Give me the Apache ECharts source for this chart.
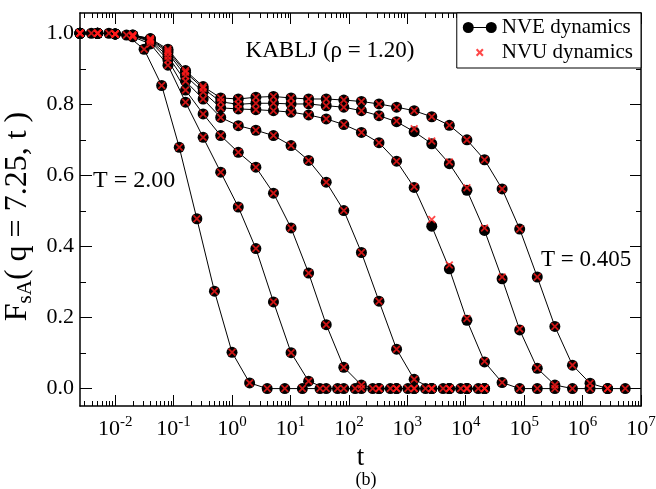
<!DOCTYPE html>
<html><head><meta charset="utf-8">
<script src="https://cdn.jsdelivr.net/npm/echarts@6/dist/echarts.min.js"></script>
<style>html,body{margin:0;padding:0;background:#fff}#c{width:656px;height:489px}</style>
</head><body><div id="c"></div>
<script>
// time grids
const tGridA = [0.00390625, 0.0078125, 0.015625, 0.03125, 0.0625, 0.125, 0.25, 0.5, 1, 2, 4, 8, 16, 32, 64, 128, 256, 512, 1024, 2048, 4096, 8192, 16384];
const tGridB = [0.0025, 0.005, 0.01, 0.02, 0.04, 0.08, 0.16, 0.32, 0.64, 1.28, 2.56, 5.12, 10.24, 20.48, 40.96, 81.92, 163.84, 327.68, 655.36, 1310.72, 2621.44, 5242.88, 10485.76, 20971.52, 41943.04, 83886.08, 167772.16, 335544.32, 671088.64, 1342177.28, 2684354.56, 5368709.12];

// NVE dynamics, one array per temperature (T = 2.00 ... T = 0.405)
const nveT200 = [1.0, 1.0, 0.995, 0.955, 0.853, 0.679, 0.478, 0.274, 0.102, 0.016, 0.0, 0.0, 0.0, 0.0, 0.0, 0.0, 0.0, 0.0, 0.0, 0.0, 0.0, 0.0, 0.0];
const nveT2 = [1.0, 1.0, 0.998, 0.99, 0.97, 0.91, 0.806, 0.707, 0.609, 0.511, 0.394, 0.244, 0.101, 0.021, 0.0, 0.0, 0.0, 0.0, 0.0, 0.0, 0.0, 0.0, 0.0, 0.0];
const nveT3 = [1.0, 1.0, 0.998, 0.992, 0.977, 0.925, 0.84, 0.773, 0.712, 0.665, 0.623, 0.55, 0.452, 0.325, 0.18, 0.06, 0.01, 0.0, 0.0, 0.0, 0.0, 0.0, 0.0, 0.0];
const nveT4 = [1.0, 1.0, 0.998, 0.993, 0.98, 0.935, 0.865, 0.815, 0.763, 0.74, 0.727, 0.712, 0.684, 0.642, 0.581, 0.501, 0.383, 0.246, 0.111, 0.026, 0.0, 0.0, 0.0, 0.0];
const nveT5 = [1.0, 1.0, 0.998, 0.994, 0.982, 0.945, 0.88, 0.835, 0.79, 0.787, 0.785, 0.782, 0.778, 0.77, 0.759, 0.743, 0.721, 0.692, 0.64, 0.566, 0.457, 0.337, 0.192, 0.075, 0.017, 0.0, 0.0, 0.0];
const nveT6 = [1.0, 1.0, 0.998, 0.995, 0.984, 0.95, 0.89, 0.845, 0.807, 0.8, 0.803, 0.803, 0.801, 0.801, 0.796, 0.792, 0.782, 0.768, 0.751, 0.723, 0.689, 0.633, 0.558, 0.445, 0.309, 0.165, 0.057, 0.01, 0.0, 0.0, 0.0];
const nveT0405 = [1.0, 1.0, 0.998, 0.995, 0.985, 0.955, 0.895, 0.85, 0.818, 0.815, 0.82, 0.822, 0.818, 0.815, 0.815, 0.812, 0.808, 0.801, 0.792, 0.782, 0.765, 0.741, 0.7, 0.644, 0.562, 0.449, 0.314, 0.175, 0.066, 0.015, 0.0, 0.0];

// NVU dynamics (where it differs visibly from NVE)
const nvuT5 = [1.0, 1.0, 0.998, 0.994, 0.982, 0.945, 0.88, 0.835, 0.79, 0.787, 0.785, 0.782, 0.778, 0.77, 0.759, 0.743, 0.721, 0.692, 0.64, 0.568, 0.476, 0.348, 0.197, 0.077, 0.017, 0.0, 0.0, 0.0];
const nvuT6 = [1.0, 1.0, 0.998, 0.995, 0.984, 0.95, 0.89, 0.845, 0.807, 0.8, 0.803, 0.803, 0.801, 0.801, 0.796, 0.792, 0.782, 0.768, 0.753, 0.731, 0.697, 0.638, 0.565, 0.452, 0.314, 0.168, 0.058, 0.01, 0.0, 0.0, 0.0];

const curves = [
  {t: tGridA, nve: nveT200, nvu: nveT200},
  {t: tGridB, nve: nveT2, nvu: nveT2},
  {t: tGridB, nve: nveT3, nvu: nveT3},
  {t: tGridB, nve: nveT4, nvu: nveT4},
  {t: tGridB, nve: nveT5, nvu: nvuT5},
  {t: tGridB, nve: nveT6, nvu: nvuT6},
  {t: tGridB, nve: nveT0405, nvu: nveT0405}
];

const xMajorTicks = [0.01, 0.1, 1, 10, 100, 1000, 10000, 100000, 1000000, 10000000];
const yMajorTicks = [0.0, 0.2, 0.4, 0.6, 0.8, 1.0];
const yMinorTicks = [0.1, 0.3, 0.5, 0.7, 0.9];
const xMinorTicks = [];
for (let e = -3; e < 7; e++) for (let m = 2; m <= 9; m++) { const v = m * Math.pow(10, e); if (v >= 0.0025) xMinorTicks.push(v); }

const FONT = 'Liberation Serif';
const XMIN = 0.0025, XMAX = 1e7, YMIN = -0.049, YMAX = 1.057;
const crossPath = 'path://M0,0 L0.01,0 L0,0.01 Z M11,11 L10.99,11 L11,10.99 Z M1.6,3.1 L3.1,1.6 L5.5,4 L7.9,1.6 L9.4,3.1 L7,5.5 L9.4,7.9 L7.9,9.4 L5.5,7 L3.1,9.4 L1.6,7.9 L4,5.5 Z';
const crossSym = 'path://M0,1.6 L1.6,0 L5,3.4 L8.4,0 L10,1.6 L6.6,5 L10,8.4 L8.4,10 L5,6.6 L1.6,10 L0,8.4 L3.4,5 Z';
const nveIcon = 'path://M0,5.5 A5.5,5.5 0 1,1 11,5.5 A5.5,5.5 0 1,1 0,5.5 Z M23,5.5 A5.5,5.5 0 1,1 34,5.5 A5.5,5.5 0 1,1 23,5.5 Z M10,4.9 L24,4.9 L24,6.1 L10,6.1 Z';

function xAxisDef(pos, ticks, len, labels, line) {
  return {
    type: 'log', logBase: 10, min: XMIN, max: XMAX, position: pos, gridIndex: 0,
    axisLine: {show: line, onZero: false, lineStyle: {color: '#000', width: 1.5}},
    axisTick: {show: true, inside: true, length: len, customValues: ticks, lineStyle: {color: '#000', width: 1}},
    axisLabel: labels ? {
      show: true, customValues: xMajorTicks, margin: 9, showMinLabel: true, showMaxLabel: true,
      formatter: v => '{b|10}{s|' + Math.round(Math.log10(v)) + '}',
      rich: {
        b: {fontFamily: FONT, fontSize: 22, color: '#000', lineHeight: 28, verticalAlign: 'middle'},
        s: {fontFamily: FONT, fontSize: 15, color: '#000', lineHeight: 9, verticalAlign: 'top'}
      }
    } : {show: false},
    splitLine: {show: false}, minorTick: {show: false}
  };
}
function yAxisDef(pos, ticks, len, labels, line) {
  return {
    type: 'value', min: YMIN, max: YMAX, position: pos, gridIndex: 0,
    axisLine: {show: line, onZero: false, lineStyle: {color: '#000', width: 1.5}},
    axisTick: {show: true, inside: true, length: len, customValues: ticks, lineStyle: {color: '#000', width: 1}},
    axisLabel: labels ? {
      show: true, customValues: yMajorTicks, margin: 6,
      formatter: v => v.toFixed(1),
      fontFamily: FONT, fontSize: 22, color: '#000'
    } : {show: false},
    splitLine: {show: false}
  };
}

const xAxes = [
  xAxisDef('bottom', xMajorTicks, 11, true, true),
  xAxisDef('bottom', xMinorTicks, 5, false, false),
  xAxisDef('top', xMajorTicks, 11, false, true),
  xAxisDef('top', xMinorTicks, 5, false, false)
];
xAxes[0].name = 't';
xAxes[0].nameLocation = 'middle';
xAxes[0].nameGap = 25;
xAxes[0].nameTextStyle = {fontFamily: FONT, fontSize: 27, color: '#000'};

const yAxes = [
  yAxisDef('left', yMajorTicks, 12, true, true),
  yAxisDef('left', yMinorTicks, 6, false, false),
  yAxisDef('right', yMajorTicks, 11, false, true),
  yAxisDef('right', yMinorTicks, 5, false, false)
];
yAxes[0].name = '{m|F}{s|sA}{m|( q = 7.25, t )}';
yAxes[0].nameLocation = 'middle';
yAxes[0].nameGap = 36;
yAxes[0].nameRotate = 90;
yAxes[0].nameTextStyle = {
  padding: [0, 14, 0, 0],
  rich: {
    m: {fontFamily: FONT, fontSize: 32, color: '#000', lineHeight: 36, verticalAlign: 'middle'},
    s: {fontFamily: FONT, fontSize: 21, color: '#000', lineHeight: 16, verticalAlign: 'bottom'}
  }
};

const series = [];
curves.forEach(c => {
  series.push({
    type: 'line', name: 'NVE dynamics', xAxisIndex: 0, yAxisIndex: 0,
    data: c.nve.map((v, i) => [c.t[i], v]),
    symbol: 'circle', symbolSize: 11, showSymbol: true, showAllSymbol: true,
    itemStyle: {color: '#000'}, lineStyle: {color: '#000', width: 1},
    emphasis: {disabled: true}, z: 2, animation: false
  });
});
curves.forEach(c => {
  series.push({
    type: 'scatter', name: 'NVU dynamics', xAxisIndex: 0, yAxisIndex: 0,
    data: c.nvu.map((v, i) => [c.t[i], v]),
    symbol: crossSym, symbolSize: 8,
    itemStyle: {color: '#ff1a1a'},
    emphasis: {disabled: true}, z: 3, animation: false
  });
});

const chart = echarts.init(document.getElementById('c'), null, {renderer: 'canvas'});
chart.setOption({
  animation: false,
  backgroundColor: '#fff',
  grid: {left: 80, top: 13, right: 15, bottom: 83, containLabel: false, outerBoundsMode: 'none'},
  xAxis: xAxes,
  yAxis: yAxes,
  legend: {
    orient: 'vertical', right: 15, top: 13, align: 'left',
    backgroundColor: '#fff', borderColor: '#000', borderWidth: 1, borderRadius: 0,
    padding: [4, 8, 5, 6], itemGap: 4, itemWidth: 34, itemHeight: 11,
    selectedMode: false,
    textStyle: {fontFamily: FONT, fontSize: 21, color: '#000'},
    data: [
      {name: 'NVE dynamics', icon: nveIcon},
      {name: 'NVU dynamics', icon: crossPath}
    ]
  },
  graphic: [
    {type: 'text', x: 330, y: 51, style: {text: 'KABLJ (ρ = 1.20)', font: '23px "Liberation Serif"', fill: '#000', align: 'center', verticalAlign: 'middle'}},
    {type: 'text', x: 93, y: 181, style: {text: 'T = 2.00', font: '24px "Liberation Serif"', fill: '#000', align: 'left', verticalAlign: 'middle'}},
    {type: 'text', x: 541, y: 260, style: {text: 'T = 0.405', font: '23px "Liberation Serif"', fill: '#000', align: 'left', verticalAlign: 'middle'}},
    {type: 'text', x: 366, y: 480, style: {text: '(b)', font: '18px "Liberation Serif"', fill: '#000', align: 'center', verticalAlign: 'middle'}}
  ],
  series: series
});
</script></body></html>
